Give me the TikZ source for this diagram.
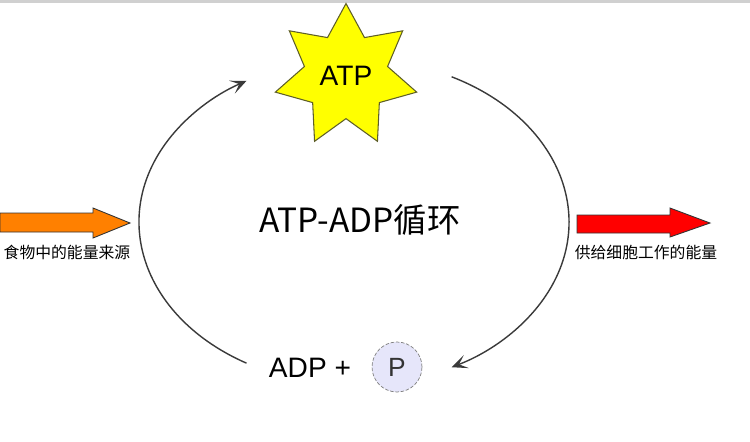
\documentclass[tikz,border=0pt]{standalone}
\usepackage{fontspec}
\setmainfont{Liberation Sans}
\newfontfamily\cjk{Noto Sans CJK SC}
\usepackage{xcolor}
\usepackage{tikz}
\usetikzlibrary{calc,arrows.meta,shapes.geometric}
\definecolor{ATPYellow}{HTML}{FFFF00}
\definecolor{ATPEdge}{HTML}{5E5E28}
\definecolor{FoodOrange}{HTML}{FF8000}
\definecolor{WorkRed}{HTML}{FF0000}
\definecolor{CycleGray}{HTML}{3A3A3A}
\definecolor{PLavender}{HTML}{E6E6FA}
\definecolor{TopGray}{HTML}{D0D0D0}

\begin{document}
\begin{tikzpicture}[x=0.02cm, y=0.02cm,
  cyclearc/.style={draw=CycleGray, line width=0.8pt},
  cycletip/.style={-{Stealth[length=9pt, width=8pt, inset=4.5pt]}},
  blockarrow/.style={draw=black!80, line width=0.5pt},
  cnlabel/.style={font=\cjk\fontsize{9}{11}\selectfont, inner sep=0pt}]
\useasboundingbox (0,0) rectangle (750,441);
\fill[TopGray] (0,438) rectangle (750,441);

% ATP star and the cycle
\node[star, star points=7, star point ratio=1.7, minimum size=2.9cm, inner sep=0pt,
  draw=ATPEdge, line width=0.6pt, fill=ATPYellow,
  font=\fontsize{16}{19}\selectfont] (atp) at (346,365) {ATP};
\coordinate (cycle) at (354,219);
\draw[cyclearc, cycletip] ($(cycle)+(240:215 and 163)$)
  arc[start angle=240, end angle=120, x radius=215, y radius=163];
\draw[cyclearc, cycletip] ($(cycle)+(63:215 and 163)$)
  arc[start angle=63, end angle=-63, x radius=215, y radius=163];
\node[font=\cjk\fontsize{19}{23}\selectfont] (title) at (360,221) {ATP-ADP循环};

% ADP + P
\node[font=\fontsize{16}{19}\selectfont] (adp) at (310,73) {ADP +};
\node[circle, draw=gray, dash pattern=on 2pt off 1pt, fill=PLavender, minimum size=1cm,
  inner sep=0pt, text=black!80, font=\fontsize{15}{18}\selectfont] (phos) at (397,74) {P};

% energy in and out
\draw[blockarrow, fill=FoodOrange] (0,228) -- (93,228) -- (93,233) -- (130,218)
  -- (93,203) -- (93,209) -- (0,209) -- cycle;
\node[cnlabel] (food) at (67,189) {食物中的能量来源};
\draw[blockarrow, fill=WorkRed] (577,226) -- (670,226) -- (670,233) -- (710,218)
  -- (670,204) -- (670,208) -- (577,208) -- cycle;
\node[cnlabel] (work) at (646,189) {供给细胞工作的能量};
\end{tikzpicture}
\end{document}
